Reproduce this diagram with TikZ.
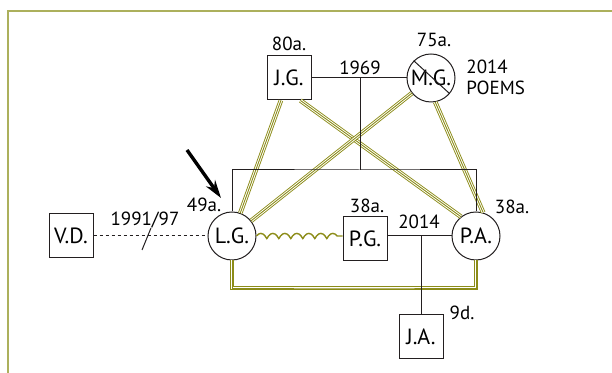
\documentclass[tikz,border=0pt]{standalone}
\usepackage{fontspec}
\setmainfont{PT Sans}
\usepackage{tikz}
\usetikzlibrary{arrows.meta, decorations.pathmorphing}
\definecolor{frameolive}{RGB}{172,176,92}
\definecolor{bondolive}{RGB}{140,140,25}
\definecolor{kinblack}{RGB}{35,31,32}

\begin{document}
\begin{tikzpicture}[
    x=0.5pt, y=-0.5pt,
    male/.style={rectangle, draw=kinblack, line width=0.5pt, minimum size=22pt, inner sep=0pt, fill=white, font=\fontsize{11}{13}\selectfont},
    female/.style={circle, draw=kinblack, line width=0.5pt, minimum size=24pt, inner sep=0pt, fill=white, font=\fontsize{11}{13}\selectfont},
    age/.style={font=\fontsize{9.5}{10.5}\selectfont, inner sep=0pt},
    kin/.style={draw=kinblack, line width=0.5pt},
    bond/.style={draw=bondolive, line width=2.3pt, postaction={draw=white, line width=1.4pt}, postaction={draw=bondolive, line width=0.45pt}},
    hostile/.style={draw=bondolive, line width=0.7pt, decorate, decoration={coil, amplitude=1.3pt, segment length=6pt}},
    divorced/.style={draw=kinblack, line width=0.5pt, dash pattern=on 1.5pt off 1.5pt},
    pointer/.style={-{Stealth[length=9pt, width=5.5pt]}, line width=1.7pt, draw=black}
]
    \useasboundingbox (0,0) rectangle (612,373);

    % Frame (top and left edge only)
    \draw[frameolive, line width=1pt] (8,373) -- (8,11) -- (612,11);

    % Grandparents
    \node[male] (JG) at (289,78) {J.G.};
    \node[female] (MG) at (431,78) {M.G.};

    % Children and partners
    \node[male] (VD) at (71,236) {V.D.};
    \node[female] (LG) at (232,236) {L.G.};
    \node[male] (PG) at (365,239) {P.G.};
    \node[female] (PA) at (476,236) {P.A.};
    \node[male] (JA) at (421,337) {J.A.};

    % Helper points
    \coordinate (wed1969) at (360,78);
    \coordinate (sibbar) at (360,170);
    \coordinate (wed2014) at (421,236);
    \coordinate (lowbar) at (354,288);
    \coordinate (cutlow) at (142,250);
    \coordinate (cuthigh) at (151,228);
    \coordinate (arrowtail) at (187,150);
    \coordinate (arrowtip) at (221,198);

    % Close bonds
    \draw[bond] (JG) -- (LG);
    \draw[bond] (JG.-63) -- (PA.128);
    \draw[bond] (MG) -- (LG);
    \draw[bond] (MG.-80) -- (PA.73);
    \draw[bond] (LG.south) |- (lowbar) -| (PA.south);
    \draw[hostile] (LG.east) -- (PG.west |- LG.east);

    % Family lines
    \draw[kin] (JG) -- (MG);
    \draw[kin] (wed1969) -- (sibbar);
    \draw[kin] (LG.north) |- (sibbar) -| (PA.north);
    \draw[kin] (PA) -- (PG.east |- PA.west);
    \draw[kin] (wed2014) -- (JA.north);
    \draw[divorced] (VD) -- (LG);
    \draw[kin] (cutlow) -- (cuthigh);
    \draw[kin] (MG.135) -- (MG.-40);

    % Index person
    \draw[pointer] (arrowtail) -- (arrowtip);

    % Ages and dates
    \node[age] (ageJG) at (289,44) {80a.};
    \node[age] (ageMG) at (434,40) {75a.};
    \node[age] (yr1969) at (360,68) {1969};
    \node[age, anchor=west, align=left] (noteMG) at (466,77) {2014\\POEMS};
    \node[age] (ageLG) at (204,205) {49a.};
    \node[age] (yr1991) at (145,220) {1991/97};
    \node[age] (agePG) at (367,206) {38a.};
    \node[age] (yr2014) at (419,222) {2014};
    \node[age] (agePA) at (512,207) {38a.};
    \node[age] (ageJA) at (462,313) {9d.};
\end{tikzpicture}
\end{document}
